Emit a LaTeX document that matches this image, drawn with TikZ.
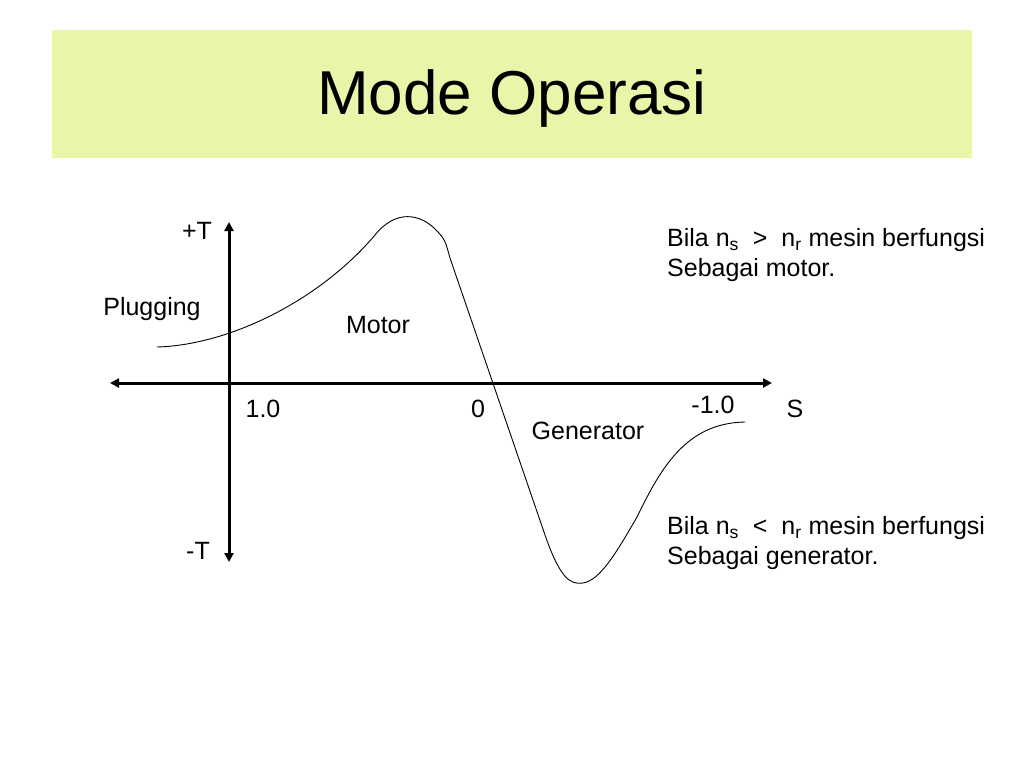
\documentclass[tikz,border=0pt]{standalone}
\usepackage{fontspec}
\setmainfont{Liberation Sans}
\usepackage{tikz}
\usetikzlibrary{arrows.meta}
\definecolor{titlebg}{RGB}{233,245,168}
\tikzset{axis/.style = {line width=3pt,-{Triangle[length=9pt,width=9pt]}},
         lbl/.style = {inner sep=0pt,font=\fontsize{25}{30}\selectfont}}

\begin{document}
\begin{tikzpicture}[x=1pt,y=-1pt]
    \useasboundingbox (0,0) rectangle (1024,768);
    \fill[titlebg] (52,30) rectangle (972,158);
    \node[inner sep=0pt,font=\fontsize{62}{70}\selectfont] (title) at (512,98) {Mode Operasi};

    \coordinate (sl) at (110,383);
    \coordinate (sr) at (772,383);
    \coordinate (tt) at (229,222);
    \coordinate (tb) at (229,562);
    \coordinate (o)  at (229,383);

    \draw[axis] (o) to (sr);
    \draw[axis] (o) to (sl);
    \draw[axis] (o) to (tt);
    \draw[axis] (o) to (tb);

    % torque-slip curve
    \draw[line width=0.9pt] (157,347) .. controls (230,345) and (320,300) .. (375,235)
        .. controls (395,210) and (420,212) .. (438,232)
        .. controls (445,240) .. (450,258) -- (545,535)
        .. controls (560,578) and (570,585) .. (583,583)
        .. controls (600,580) and (615,555) .. (637,517)
        .. controls (660,470) and (685,423) .. (745,422);

    \node[lbl] (plus) at (197,231) {+T};
    \node[lbl] (minus) at (198,551) {-T};
    \node[lbl] (plug) at (152,309) {Plugging};
    \node[lbl] (mot) at (378,325) {Motor};
    \node[lbl] (gen) at (588,431) {Generator};
    \node[lbl] (one) at (263,409) {1.0};
    \node[lbl] (zero) at (478,409) {0};
    \node[lbl] (mone) at (713,405) {-1.0};
    \node[lbl] (s) at (795,409) {S};

    \node[lbl,anchor=west,align=left] (modem) at (667,255)
        {Bila n\textsubscript{s} \ >\ \ n\textsubscript{r} mesin berfungsi\\Sebagai motor.};
    \node[lbl,anchor=west,align=left] (modeg) at (667,543)
        {Bila n\textsubscript{s} \ <\ \ n\textsubscript{r} mesin berfungsi\\Sebagai generator.};
\end{tikzpicture}
\end{document}
